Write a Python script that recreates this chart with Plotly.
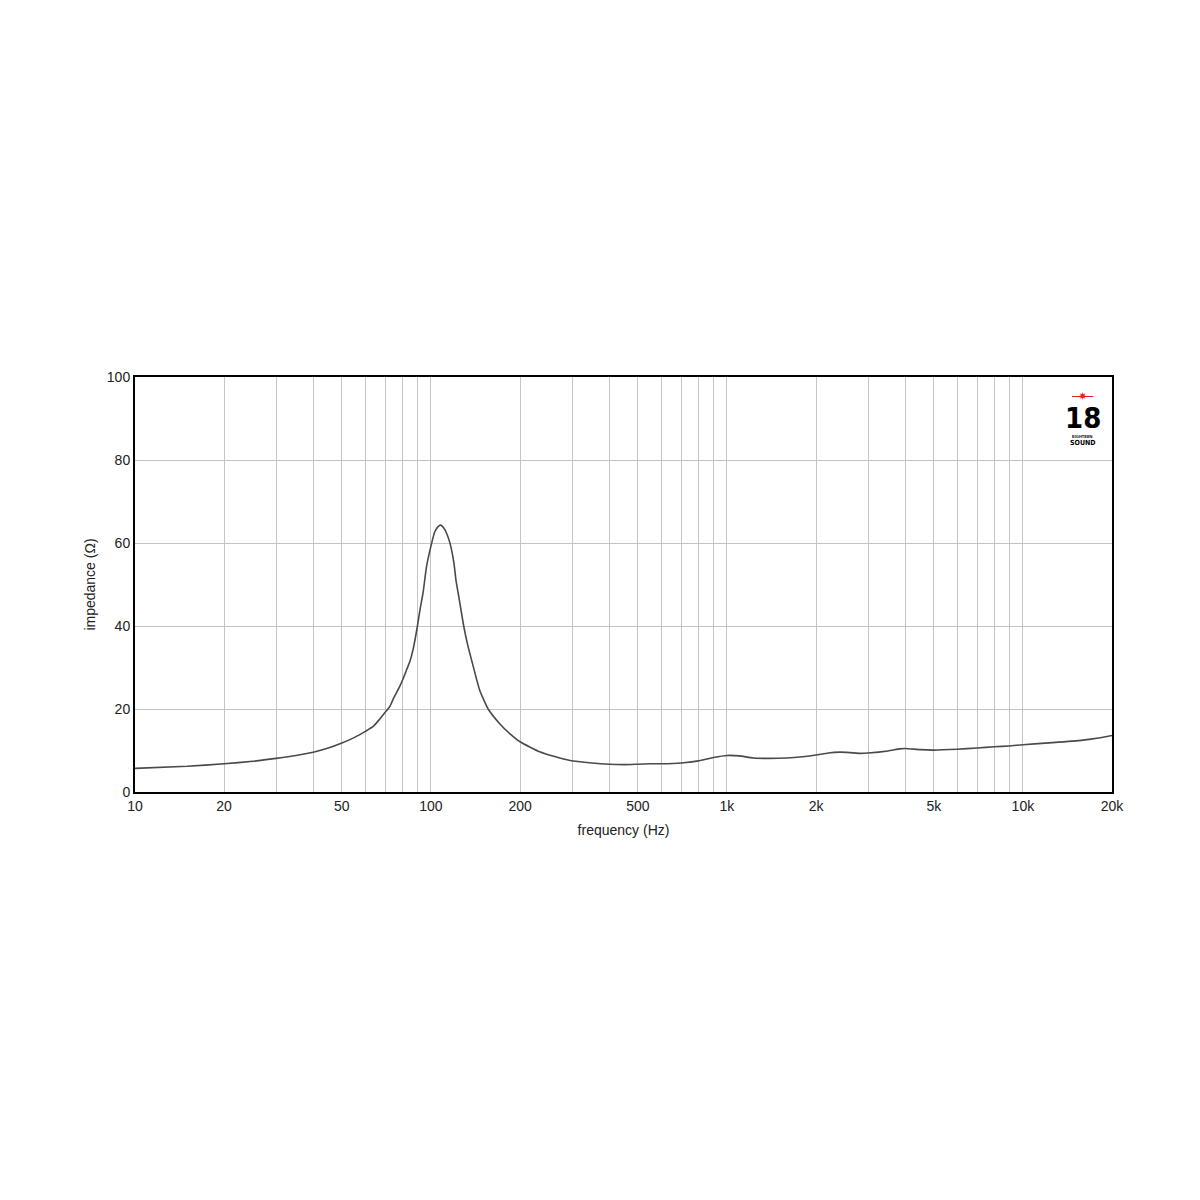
import plotly.graph_objects as go

# impedance curve (Hz, ohm)
freq_hz = [10, 15, 20, 25, 30, 35, 40, 45, 50, 55, 60, 63.8, 67, 70, 72.6, 75,
           78.5, 80.5, 82.8, 84.9, 87.1, 90, 91.8, 94, 96.6, 100.5, 103, 105.5,
           107.8, 110.5, 113, 116, 119.6, 121.5, 123.6, 129, 133, 139, 146, 156,
           171, 185, 200, 233, 260, 295, 350, 400, 450, 500, 550, 600, 700, 800,
           900, 1000, 1100, 1228, 1400, 1590, 1800, 2000, 2200, 2409, 2600, 2812,
           3000, 3500, 3837, 4000, 4500, 5000, 6000, 7000, 8000, 9000, 10000,
           12600, 15960, 18000, 20000]
impedance = [5.7, 6.2, 6.8, 7.4, 8.1, 8.8, 9.6, 10.6, 11.8, 13.1, 14.6, 15.8,
             17.5, 19.2, 20.6, 22.8, 25.5, 27.3, 29.5, 31.5, 34.5, 40.0, 43.9,
             47.9, 54.3, 59.9, 62.7, 63.9, 64.3, 63.6, 62.3, 59.9, 55.1, 51.0,
             47.9, 40.0, 35.5, 30.2, 24.6, 20.0, 16.4, 14.0, 12.1, 9.7, 8.6, 7.6,
             7.0, 6.7, 6.6, 6.7, 6.8, 6.8, 7.0, 7.5, 8.3, 8.8, 8.7, 8.2, 8.1, 8.2,
             8.5, 8.9, 9.4, 9.6, 9.5, 9.3, 9.4, 9.9, 10.4, 10.5, 10.2, 10.1, 10.3,
             10.6, 10.9, 11.1, 11.4, 11.9, 12.5, 13.0, 13.6]

x_grid = [10, 20, 30, 40, 50, 60, 70, 80, 90, 100, 200, 300, 400, 500, 600, 700,
          800, 900, 1000, 2000, 3000, 4000, 5000, 6000, 7000, 8000, 9000, 10000, 20000]
x_labels = {10: "10", 20: "20", 50: "50", 100: "100", 200: "200", 500: "500",
            1000: "1k", 2000: "2k", 5000: "5k", 10000: "10k", 20000: "20k"}
y_ticks = [0, 20, 40, 60, 80, 100]

FONT = "Liberation Sans, Arial, sans-serif"
LOGO_FONT = "DejaVu Sans Condensed, Liberation Sans Narrow, sans-serif"

fig = go.Figure(go.Scatter(
    x=freq_hz, y=impedance, mode="lines",
    line=dict(color="#4a4a4a", width=1.6, shape="spline", smoothing=0.5),
    hovertemplate="%{x} Hz<br>%{y:.1f} Ω<extra></extra>",
))

fig.update_xaxes(
    type="log", range=[1, 4.30103],
    tickvals=x_grid, ticktext=[x_labels.get(v, "") for v in x_grid],
    showgrid=True, gridcolor="#c4c4c4", gridwidth=1,
    showline=True, linecolor="black", linewidth=2, mirror=True,
    ticks="", zeroline=False,
    title=dict(text="frequency (Hz)", font=dict(size=14, color="#222"), standoff=12),
    tickfont=dict(size=14, color="#222"),
)
fig.update_yaxes(
    range=[0, 100], tickvals=y_ticks,
    showgrid=True, gridcolor="#c4c4c4", gridwidth=1,
    showline=True, linecolor="black", linewidth=2, mirror=True,
    ticks="", zeroline=False,
    title=dict(text="impedance (Ω)", font=dict(size=14, color="#222"), standoff=8),
    tickfont=dict(size=14, color="#222"),
)

# 18 Sound logo in the top right corner
LOGO_X = 0.970
fig.add_shape(type="line", xref="paper", yref="paper",
              x0=LOGO_X - 0.011, x1=LOGO_X + 0.011, y0=0.953, y1=0.953,
              line=dict(color="#e02020", width=1))
logo_texts = [
    ("✷", 0.953, 11, "#e02020", "DejaVu Sans"),
    ("<b>18</b>", 0.902, 29, "black", LOGO_FONT),
    ("<b>EIGHTEEN</b>", 0.857, 4, "black", FONT),
    ("<b>SOUND</b>", 0.842, 7, "black", LOGO_FONT),
]
for text, y, size, colour, family in logo_texts:
    fig.add_annotation(text=text, xref="paper", yref="paper", x=LOGO_X, y=y,
                       xanchor="center", yanchor="middle", showarrow=False,
                       font=dict(size=size, color=colour, family=family))

fig.update_layout(
    width=1200, height=1200,
    plot_bgcolor="white", paper_bgcolor="white",
    font=dict(family=FONT),
    showlegend=False,
    margin=dict(l=127, r=96, t=369, b=416),
)

fig.write_html("out.html")
